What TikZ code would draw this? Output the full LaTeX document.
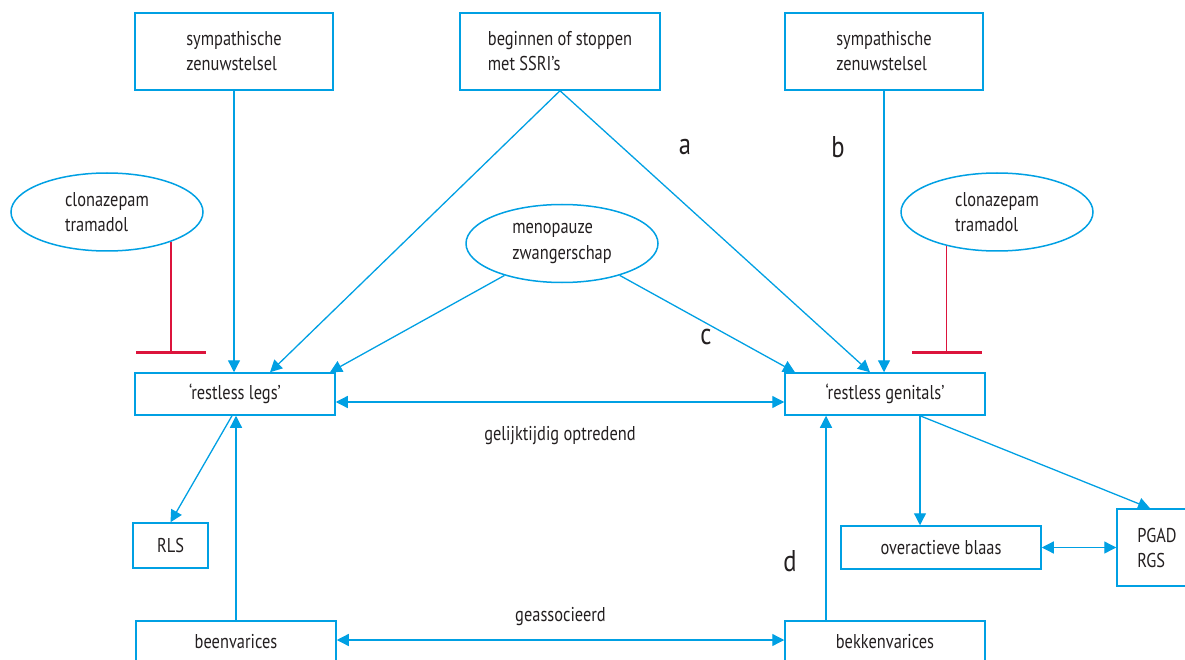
\documentclass[tikz,border=0pt]{standalone}
\usepackage{fontspec}
\setmainfont{PT Sans}[FakeStretch=0.82]
\usepackage{tikz}
\usetikzlibrary{arrows.meta, positioning, shapes.geometric, calc}
\definecolor{lijn}{RGB}{0,160,227}
\definecolor{rem}{RGB}{220,20,60}
\definecolor{tekst}{RGB}{35,31,32}

\begin{document}
\begin{tikzpicture}[x=1pt, y=-1pt, ->, >={Triangle[length=12pt,width=12pt]}, line width=1.3pt, lijn,
    every node/.style={font=\fontsize{20}{25}\selectfont, text=tekst, align=left, inner sep=0pt},
    box/.style={draw=lijn, line width=1.5pt, rectangle, minimum width=198pt, minimum height=42pt},
    oval/.style={draw=lijn, line width=1.5pt, ellipse, minimum width=192pt, minimum height=78pt},
    letter/.style={font=\fontsize{30}{36}\selectfont},
    inhibit/.style={-{Bar[width=70pt,line width=3pt]}, rem, line width=1.3pt}]
    \useasboundingbox (0,0) rectangle (1185,660);

    \node[box, minimum height=77pt] (symL) at (234,51.5) {sympathische\\zenuwstelsel};
    \node[box, minimum height=77pt, minimum width=200pt] (ssri) at (560,51.5) {beginnen of stoppen\\met SSRI’s};
    \node[box, minimum height=77pt] (symR) at (884,51.5) {sympathische\\zenuwstelsel};
    \node[oval] (clonL) at (107,212) {clonazepam\\tramadol};
    \node[oval] (clonR) at (997,212) {clonazepam\\tramadol};
    \node[oval] (meno) at (562,243.5) {menopauze\\zwangerschap};
    \node[box, minimum width=200pt] (legs) at (235,394) {‘restless legs’};
    \node[box, minimum width=200pt] (gen) at (885,394) {‘restless genitals’};
    \node[box, minimum width=75pt, minimum height=45pt] (rls) at (170.5,545.5) {RLS};
    \node[box, minimum width=200pt, minimum height=43pt] (blaas) at (941,547.5) {overactieve blaas};
    \node[box, minimum width=80pt, minimum height=77pt] (pgad) at (1157,547.5) {PGAD\\RGS};
    \node[box, minimum width=200pt] (been) at (236,642) {beenvarices};
    \node[box, minimum width=200pt] (bekken) at (885,642) {bekkenvarices};

    \node[letter] (a) at (685,147) {a};
    \node[letter] (b) at (838,147) {b};
    \node[letter] (c) at (706,337) {c};
    \node[letter] (d) at (790,561) {d};

    \coordinate (barL) at (170,354);
    \coordinate (barR) at (950,354);
    \coordinate (split) at ([shift={(35,0)}]gen.south);

    \draw (symL) -- (symL |- legs.north);
    \draw (symR) -- (symR |- gen.north);
    \draw (ssri.south) -- ([shift={(35,0)}]legs.north);
    \draw (ssri.south) -- ([shift={(-15,0)}]gen.north);
    \draw (meno) -- ([shift={(95,0)}]legs.north);
    \draw (meno) -- ([shift={(-90,0)}]gen.north);
    \draw[inhibit] (clonL.-25) -- (clonL.-25 |- barL);
    \draw[inhibit] (clonR.214) -- (clonR.214 |- barR);
    \draw[<->] ([shift={(0,8)}]legs.east) -- ([shift={(0,8)}]gen.west)
        node[midway, below=24pt] (gelijk) {gelijktijdig optredend};
    \draw ([shift={(-3,0)}]legs.south) -- (rls.north);
    \draw (been) -- (been |- legs.south);
    \draw ([shift={(-59,0)}]bekken.north) -- ([shift={(-59,0)}]gen.south);
    \draw (split) -- (split |- blaas.north);
    \draw (split) -- ([shift={(-7,0)}]pgad.north);
    \draw[<->] (blaas) -- (pgad);
    \draw[<->] ([shift={(0,-2)}]been.east) -- ([shift={(0,-2)}]bekken.west)
        node[midway, above=14pt] (geass) {geassocieerd};
\end{tikzpicture}
\end{document}
